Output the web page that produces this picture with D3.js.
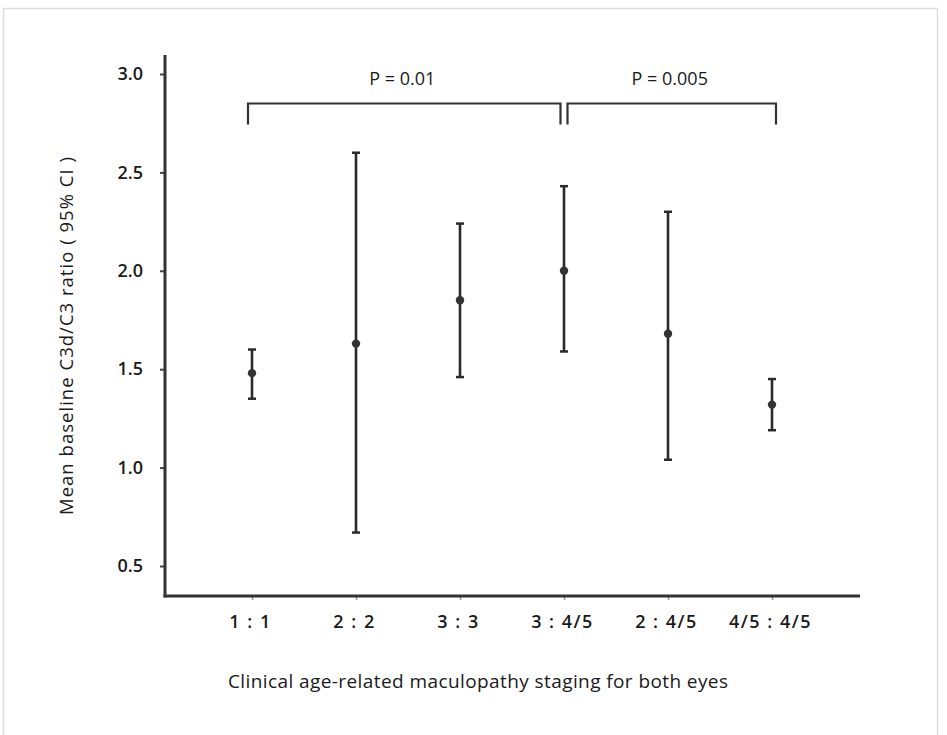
<!DOCTYPE html>
<html><head><meta charset="utf-8">
<script src="https://cdn.jsdelivr.net/npm/d3@7"></script>
<style>body{margin:0;background:#fff}svg text{font-family:"Open Sans",Lato,sans-serif;fill:#1a1a1a}</style>
</head><body><svg id="c" width="947" height="735"></svg>
<script>
const categories = ["1 : 1", "2 : 2", "3 : 3", "3 : 4/5", "2 : 4/5", "4/5 : 4/5"];
const means = [1.48, 1.63, 1.85, 2.00, 1.68, 1.32];
const lower = [1.35, 0.67, 1.46, 1.59, 1.04, 1.19];
const upper = [1.60, 2.60, 2.24, 2.43, 2.30, 1.45];
const yTicks = [0.5, 1.0, 1.5, 2.0, 2.5, 3.0];
const brackets = [
  {from: "1 : 1", to: "3 : 4/5", label: "P = 0.01", level: 2.85},
  {from: "3 : 4/5", to: "4/5 : 4/5", label: "P = 0.005", level: 2.85}
];

const svg = d3.select("#c");
// faint frame
svg.append("rect").attr("x",3.5).attr("y",8.5).attr("width",934).attr("height",740)
  .attr("fill","none").attr("stroke","#ddd").attr("stroke-width",1.5);

const x0 = 165, x1 = 860, yTop = 55, yBot = 596;
const x = d3.scalePoint().domain(categories).range([252, 772]);
const y = d3.scaleLinear().domain([0.5, 3.0]).range([566, 74]);

// y axis
const ya = svg.append("g").attr("transform",`translate(${x0},0)`)
  .call(d3.axisLeft(y).tickValues(yTicks).tickFormat(d3.format(".1f")).tickSize(5).tickPadding(17));
ya.select(".domain").remove();
ya.selectAll("line").attr("stroke","#444").attr("stroke-width",2);
ya.selectAll("text").style("font-size","18px").style("font-weight","600").attr("fill","#222");
svg.append("line").attr("x1",x0).attr("x2",x0).attr("y1",yTop).attr("y2",yBot+1.5)
  .attr("stroke","#333").attr("stroke-width",3);

// x axis
const xa = svg.append("g").attr("transform",`translate(0,${yBot})`)
  .call(d3.axisBottom(x).tickSize(4).tickPadding(15));
xa.select(".domain").remove();
xa.selectAll("line").attr("stroke","#999").attr("stroke-width",1.5);
xa.selectAll("text").style("font-size","18px").style("font-weight","600")
  .style("letter-spacing","1.5px").attr("fill","#222").attr("dx","-2");
svg.append("line").attr("x1",x0-1.5).attr("x2",x1).attr("y1",yBot).attr("y2",yBot)
  .attr("stroke","#333").attr("stroke-width",3);

// error bars
const g = svg.append("g");
categories.forEach((c,i)=>{
  const cx = x(c);
  g.append("line").attr("x1",cx).attr("x2",cx).attr("y1",y(upper[i])).attr("y2",y(lower[i]))
    .attr("stroke","#2a2a2a").attr("stroke-width",2.6);
  [upper[i], lower[i]].forEach(v=>{
    g.append("line").attr("x1",cx-4).attr("x2",cx+4).attr("y1",y(v)).attr("y2",y(v))
      .attr("stroke","#2a2a2a").attr("stroke-width",2.5);
  });
  g.append("circle").attr("cx",cx).attr("cy",y(means[i])).attr("r",4.2).attr("fill","#333");
});

// brackets
brackets.forEach((b,i)=>{
  const off = 3.5;
  const xa_ = x(b.from) + (i===1 ? off : -4), xb_ = x(b.to) + (i===0 ? -off : 4);
  const by = y(b.level), legY = by + 21;
  svg.append("path").attr("d",`M${xa_},${legY}V${by}H${xb_}V${legY}`)
    .attr("fill","none").attr("stroke","#333").attr("stroke-width",2.2);
  svg.append("text").attr("x",(xa_+xb_)/2 - 2).attr("y",y(3.0)+11).attr("text-anchor","middle")
    .style("font-size","18px").style("font-weight","500").text(b.label);
});

// axis titles
svg.append("text").attr("transform","translate(73,336) rotate(-90)").attr("text-anchor","middle")
  .style("font-size","18.5px").style("font-weight","500").attr("textLength",358).attr("lengthAdjust","spacing")
  .text("Mean baseline C3d/C3 ratio ( 95% CI )");
svg.append("text").attr("x",478).attr("y",688).attr("text-anchor","middle")
  .style("font-size","19px").style("font-weight","500").attr("textLength",500).attr("lengthAdjust","spacing")
  .text("Clinical age-related maculopathy staging for both eyes");
</script></body></html>
